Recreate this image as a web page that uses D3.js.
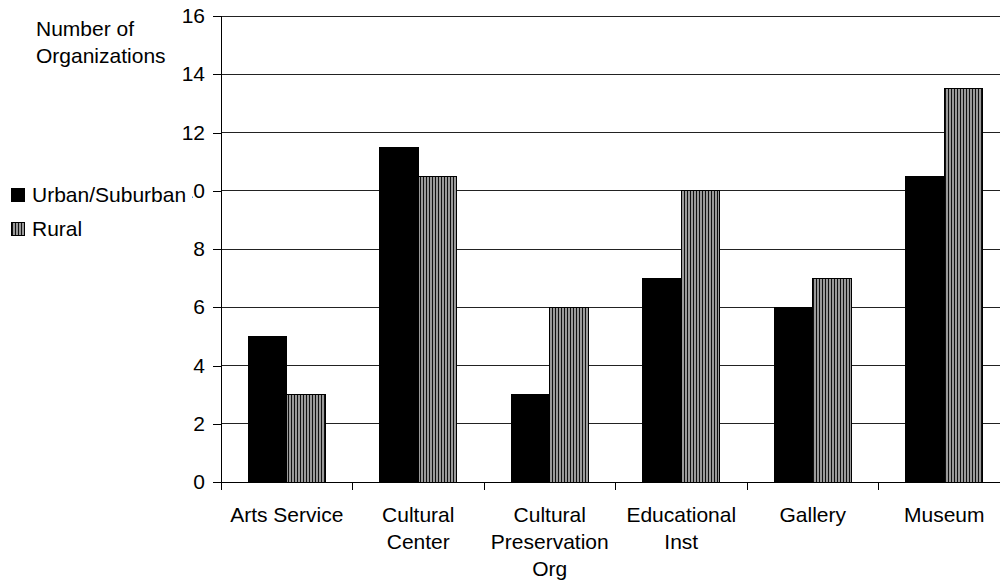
<!DOCTYPE html>
<html>
<head>
<meta charset="utf-8">
<script src="https://cdn.jsdelivr.net/npm/d3@7/dist/d3.min.js"></script>
<style>
html,body{margin:0;padding:0;background:#fff;overflow:hidden;}
text{font-family:"Liberation Sans",Arial,sans-serif;fill:#000;}
</style>
</head>
<body>
<svg id="chart" width="1000" height="582"></svg>
<script>
const categories = [["Arts Service"],["Cultural","Center"],["Cultural","Preservation","Org"],["Educational","Inst"],["Gallery"],["Museum"]];
const seriesNames = ["Urban/Suburban","Rural"];
const urban = [5, 11.5, 3, 7, 6, 10.5];
const rural = [3, 10.5, 6, 10, 7, 13.5];
const yTicks = [0,2,4,6,8,10,12,14,16];

(function(){
const svg = d3.select("#chart");
const fs = 21;
const mLeft = 221, mTop = 16, mBottom = 482, mRight = 1010;

const defs = svg.append("defs");
const pat = defs.append("pattern").attr("id","stripes").attr("patternUnits","userSpaceOnUse")
  .attr("width",3).attr("height",10);
pat.append("rect").attr("width",3).attr("height",10).attr("fill","#9a9a9a");
pat.append("rect").attr("width",1).attr("height",10).attr("fill","#111");

const keys = categories.map((d,i)=>i);
const x = d3.scaleBand().domain(keys).range([mLeft, mRight]).paddingInner(0).paddingOuter(0);
const x1 = d3.scaleBand().domain([0,1]).range([0, x.bandwidth()]).paddingOuter(0.71).paddingInner(0);
const y = d3.scaleLinear().domain([0,16]).range([mBottom, mTop]);

// gridlines
svg.append("g").selectAll("line").data(yTicks.filter(t=>t>0)).join("line")
  .attr("x1",mLeft).attr("x2",mRight).attr("y1",d=>y(d)).attr("y2",d=>y(d))
  .attr("stroke","#222").attr("stroke-width",1).attr("shape-rendering","crispEdges");

// bars
const fills = ["#000","url(#stripes)"];
const data = [urban, rural];
const g = svg.append("g");
keys.forEach(i=>{
  data.forEach((s,k)=>{
    g.append("rect")
      .attr("x", x(i)+x1(k)).attr("width", x1.bandwidth())
      .attr("y", y(s[i])).attr("height", y(0)-y(s[i]))
      .attr("fill", fills[k]).attr("stroke","#000").attr("stroke-width",1)
      .attr("shape-rendering","crispEdges");
  });
});

// y axis
const yAxis = d3.axisLeft(y).tickValues(yTicks).tickSize(8).tickPadding(8).tickFormat(d3.format("d"));
const ya = svg.append("g").attr("transform",`translate(${mLeft},0)`).call(yAxis);
ya.select(".domain").remove();
ya.append("line").attr("x1",0).attr("x2",0).attr("y1",mTop).attr("y2",mBottom).attr("stroke","#000").attr("shape-rendering","crispEdges");
ya.selectAll(".tick line").attr("stroke","#000").attr("shape-rendering","crispEdges");
ya.selectAll(".tick text").style("font-size",fs+"px").attr("fill","#000").style("font-family","Liberation Sans, Arial, sans-serif");

// x axis
const xa = svg.append("g").attr("transform",`translate(0,${mBottom})`);
xa.append("line").attr("x1",mLeft).attr("x2",mRight).attr("y1",0).attr("y2",0).attr("stroke","#000").attr("shape-rendering","crispEdges");
const bounds = keys.map(i=>x(i)).concat([mRight]);
xa.selectAll("line.tk").data(bounds).join("line").attr("class","tk")
  .attr("x1",d=>d).attr("x2",d=>d).attr("y1",0).attr("y2",8).attr("stroke","#000").attr("shape-rendering","crispEdges");
keys.forEach(i=>{
  const t = xa.append("text").attr("text-anchor","middle").style("font-size",fs+"px")
    .attr("x", x(i)+x.bandwidth()/2).attr("y", 40);
  categories[i].forEach((ln,j)=>{
    t.append("tspan").attr("x", x(i)+x.bandwidth()/2).attr("y", 40 + j*26.8).text(ln);
  });
});

// y axis title
const yt = svg.append("text").style("font-size",fs+"px");
yt.append("tspan").attr("x",36).attr("y",36).text("Number of");
yt.append("tspan").attr("x",36).attr("y",63).text("Organizations");

// legend
const lg = svg.append("g");
lg.append("rect").attr("x",4).attr("y",180).attr("width",188).attr("height",62).attr("fill","#fff");
seriesNames.forEach((n,k)=>{
  const yy = 188 + k*34;
  lg.append("rect").attr("x",11.5).attr("y",yy+0.5).attr("width",13).attr("height",13)
    .attr("fill",fills[k]).attr("stroke","#000").attr("stroke-width",1);
  lg.append("text").attr("x",32).attr("y",yy+13.5).style("font-size",fs+"px").text(n);
});
})();
</script>
</body>
</html>
